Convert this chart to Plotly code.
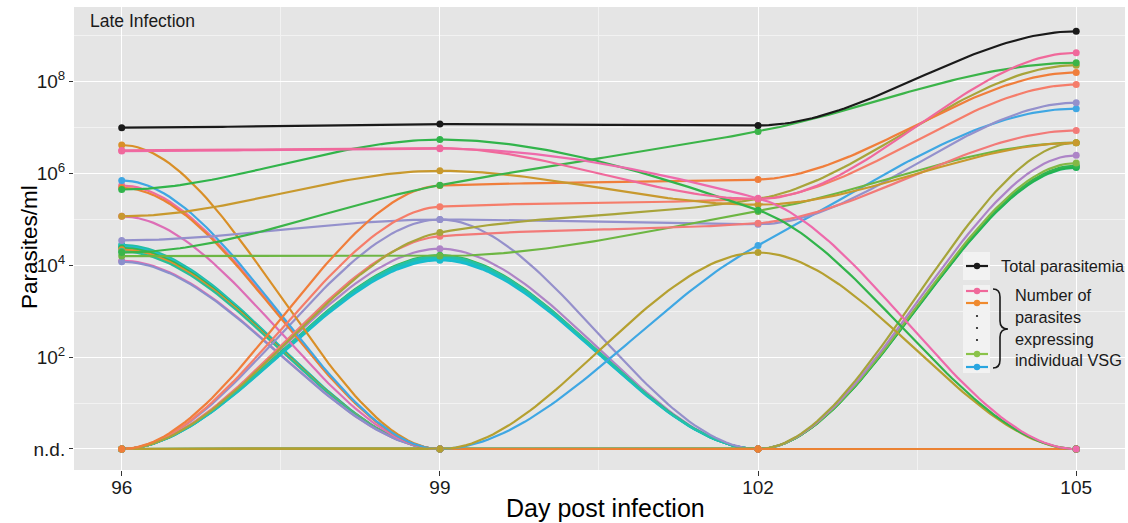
import numpy as np
import plotly.graph_objects as go

# ---------------- data (parasites/ml; 0 = not detected, "n.d.") ----------------
days = [96, 99, 102, 105]
total_parasitemia = [1.0e7, 1.2e7, 1.12e7, 1.26e9]

vsg_goldorange = [4.2e6, 0, 0, 0]
vsg_pink_a = [3.2e6, 3.6e6, 2.8e5, 4.3e8]
vsg_pink_b = [3.1e6, 3.5e6, 2.9e5, 0]
vsg_blue = [7.1e5, 0, 2.7e4, 2.6e7]
vsg_pink_c = [5.5e5, 0, 0, 0]
vsg_orange_a = [4.9e5, 0, 0, 0]
vsg_green_a = [4.5e5, 5.5e6, 1.6e5, 0]
vsg_gold = [1.17e5, 1.15e6, 2.1e5, 4.7e6]
vsg_magenta_a = [1.17e5, 0, 0, 0]
vsg_purple_a = [3.5e4, 1.0e5, 7.9e4, 3.5e7]
vsg_green_b = [1.9e4, 5.6e5, 8.3e6, 2.6e8]
vsg_lightgreen_a = [1.6e4, 1.6e4, 1.5e5, 4.7e6]
vsg_teal_a = [2.8e4, 0, 0, 0]
vsg_cyan_a = [2.6e4, 0, 0, 0]
vsg_green_c = [2.4e4, 0, 0, 0]
vsg_orange_b = [2.2e4, 0, 0, 0]
vsg_teal_b = [2.0e4, 0, 0, 0]
vsg_pink_d = [1.26e4, 0, 0, 0]
vsg_purple_b = [1.2e4, 0, 0, 0]
vsg_violet_a = [0, 2.3e4, 0, 0]
vsg_cyan_b = [0, 1.4e4, 0, 0]
vsg_teal_c = [0, 1.5e4, 0, 0]
vsg_green_d = [0, 1.66e4, 0, 0]
vsg_cyan_c = [0, 1.3e4, 0, 0]
vsg_teal_d = [0, 1.6e4, 0, 0]
vsg_purple_c = [0, 1.0e5, 0, 0]
vsg_orange_c = [0, 5.5e5, 7.4e5, 1.6e8]
vsg_salmon_a = [0, 1.9e5, 2.8e5, 8.7e7]
vsg_olive_a = [0, 5.2e4, 2.8e5, 2.3e8]
vsg_salmon_b = [0, 4.3e4, 8.3e4, 8.7e6]
vsg_olivegold = [0, 0, 1.9e4, 0]
vsg_olive_b = [0, 0, 0, 4.7e6]
vsg_violet_b = [0, 0, 0, 2.5e6]
vsg_lightgreen_b = [0, 0, 0, 1.7e6]
vsg_green_e = [0, 0, 0, 1.5e6]
vsg_green_f = [0, 0, 0, 1.4e6]
vsg_teal_e = [0, 0, 0, 1.35e6]

vsg_series = [
    vsg_teal_a, vsg_cyan_a, vsg_green_c, vsg_orange_b, vsg_teal_b, vsg_pink_d, vsg_purple_b,
    vsg_violet_a, vsg_cyan_b, vsg_teal_c, vsg_green_d, vsg_cyan_c, vsg_teal_d, vsg_purple_c,
    vsg_teal_e, vsg_green_f, vsg_green_e, vsg_lightgreen_b, vsg_violet_b, vsg_olive_b,
    vsg_magenta_a, vsg_pink_c, vsg_goldorange, vsg_orange_a, vsg_blue, vsg_olivegold,
    vsg_purple_a, vsg_lightgreen_a, vsg_salmon_b, vsg_salmon_a, vsg_olive_a, vsg_orange_c,
    vsg_gold, vsg_green_a, vsg_green_b, vsg_pink_b, vsg_pink_a,
]
vsg_colors = [
    "#23BEA5", "#20BDC9", "#34B653", "#E38C2F", "#2ABF96", "#E56CB0", "#8A8FCC",
    "#AE84C6", "#1BBFD3", "#1FC0B8", "#3AB64A", "#17BCCD", "#25C1A6", "#9590CB",
    "#1EB665", "#25B24C", "#2FB552", "#84B845", "#AD84C7", "#A6A43A",
    "#DD6EB6", "#EE6D9E", "#D98F27", "#EB8233", "#3FA7E3", "#B5A030",
    "#9491CC", "#6DB643", "#F27A78", "#F57D6A", "#A8A43A", "#F07E3B",
    "#C8992E", "#31B44B", "#3BB449", "#EE6AAB", "#F0699B",
]

# ---------------- helpers ----------------
def to_log(vals):
    return np.array([np.log10(v) if v > 0 else 0.0 for v in vals])


def smooth_curve(xs, vals, n=60):
    """Monotone cubic Hermite interpolation in log space (flat at ends / extrema)."""
    xs = np.asarray(xs, float)
    ys = to_log(vals)
    h = np.diff(xs)
    d = np.diff(ys) / h
    m = np.zeros_like(ys)
    for i in range(1, len(ys) - 1):
        if d[i - 1] * d[i] > 0:
            m[i] = 2.0 / (1.0 / d[i - 1] + 1.0 / d[i])
    X, Y = [], []
    for i in range(len(xs) - 1):
        t = np.linspace(0, 1, n, endpoint=(i == len(xs) - 2))
        h00 = 2 * t**3 - 3 * t**2 + 1
        h10 = t**3 - 2 * t**2 + t
        h01 = -2 * t**3 + 3 * t**2
        h11 = t**3 - t**2
        y = h00 * ys[i] + h10 * h[i] * m[i] + h01 * ys[i + 1] + h11 * h[i] * m[i + 1]
        X.append(xs[i] + t * h[i])
        Y.append(y)
    return np.concatenate(X), 10 ** np.concatenate(Y)


def shown(vals):
    return [v if v > 0 else 1.0 for v in vals]


fig = go.Figure()

LW = 2.2
MS = 7
for vals, col in zip(vsg_series, vsg_colors):
    cx, cy = smooth_curve(days, vals)
    fig.add_trace(go.Scatter(x=cx, y=cy, mode="lines", line=dict(color=col, width=LW),
                             hoverinfo="skip", showlegend=False))
for vals, col in zip(vsg_series, vsg_colors):
    fig.add_trace(go.Scatter(x=days, y=shown(vals), mode="markers",
                             marker=dict(color=col, size=MS), showlegend=False))

cx, cy = smooth_curve(days, total_parasitemia)
fig.add_trace(go.Scatter(x=cx, y=cy, mode="lines", line=dict(color="#1A1A1A", width=LW),
                         hoverinfo="skip", showlegend=False))
fig.add_trace(go.Scatter(x=days, y=total_parasitemia, mode="markers",
                         marker=dict(color="#1A1A1A", size=MS), showlegend=False))

# ---------------- layout ----------------
W, H = 1128, 523
ML, MR, MT, MB = 74, 3, 7, 53
PW, PH = W - ML - MR, H - MT - MB


def P(px, py):
    return (px - ML) / PW, (H - MB - py) / PH


FONT = "Liberation Sans, Arial, Helvetica, sans-serif"

fig.update_layout(
    width=W, height=H,
    margin=dict(l=ML, r=MR, t=MT, b=MB, pad=0),
    paper_bgcolor="white",
    plot_bgcolor="#E5E5E5",
    font=dict(family=FONT, color="#1A1A1A"),
    showlegend=False,
)

fig.update_xaxes(
    range=[95.55, 105.46],
    tickvals=[96, 99, 102, 105],
    ticktext=["96", "99", "102", "105"],
    tickfont=dict(size=19, color="#1A1A1A"),
    ticks="outside", ticklen=5, tickcolor="#333333", tickwidth=1.2,
    ticklabelstandoff=-5,
    showgrid=True, gridcolor="white", gridwidth=1.3,
    minor=dict(tickvals=[97.5, 100.5, 103.5], showgrid=True, gridcolor="#F2F2F2",
               gridwidth=0.7, ticks=""),
    zeroline=False, showline=False,
)
fig.update_yaxes(
    type="log",
    range=[-0.458, 9.63],
    tickvals=[1, 1e2, 1e4, 1e6, 1e8],
    ticktext=["n.d.", "10<sup>2</sup>", "10<sup>4</sup>", "10<sup>6</sup>", "10<sup>8</sup>"],
    tickfont=dict(size=19, color="#1A1A1A"),
    ticks="outside", ticklen=4, tickcolor="#333333", tickwidth=1.2,
    showgrid=True, gridcolor="white", gridwidth=1.3,
    minor=dict(tickvals=[10, 1e3, 1e5, 1e7, 1e9], showgrid=True, gridcolor="#F2F2F2",
               gridwidth=0.7, ticks=""),
    zeroline=False, showline=False,
)

annotations = []
# panel label
x0, y0 = P(88, 21)
annotations.append(dict(x=x0, y=y0, xref="paper", yref="paper", text="Late Infection",
                        showarrow=False, xanchor="left", yanchor="middle",
                        font=dict(size=17.5, color="#1A1A1A")))
# axis titles
x0, y0 = P(605, 508)
annotations.append(dict(x=x0, y=y0, xref="paper", yref="paper", text="Day post infection",
                        showarrow=False, xanchor="center", yanchor="middle",
                        font=dict(size=25, color="#000000")))
x0, y0 = P(30, 247)
annotations.append(dict(x=x0, y=y0, xref="paper", yref="paper", text="Parasites/ml",
                        showarrow=False, xanchor="center", yanchor="middle", textangle=-90,
                        font=dict(size=22.5, color="#000000")))

shapes = []


def rect(px0, py0, px1, py1, fill):
    a, b = P(px0, py1)
    c, d = P(px1, py0)
    shapes.append(dict(type="rect", xref="paper", yref="paper", x0=a, y0=b, x1=c, y1=d,
                       fillcolor=fill, line=dict(width=0), layer="above"))


def hline(px0, px1, py, col, w=2.2):
    a, b = P(px0, py)
    c, _ = P(px1, py)
    shapes.append(dict(type="line", xref="paper", yref="paper", x0=a, y0=b, x1=c, y1=b,
                       line=dict(color=col, width=w), layer="above"))


def dot(px, py, r, col):
    a, b = P(px - r, py + r)
    c, d = P(px + r, py - r)
    shapes.append(dict(type="circle", xref="paper", yref="paper", x0=a, y0=b, x1=c, y1=d,
                       fillcolor=col, line=dict(width=0), layer="above"))


# legend key boxes
rect(963, 252, 990, 280, "#F2F2F2")
rect(963, 285, 990, 373, "#F2F2F2")
hline(966, 988, 266, "#1A1A1A")
dot(977, 266, 3.2, "#1A1A1A")
legend_keys = [(291, "#F0699B"), (303, "#F08A2E"), (354, "#8BC34A"), (367, "#2AA6E0")]
for py, col in legend_keys:
    hline(966, 988, py, col)
    dot(977, py, 3.2, col)
for py in (316, 328, 340):
    dot(977, py, 1.1, "#1A1A1A")

# curly brace
pts = [(993, 289), (1000, 289), (1000, 297), (1000, 321), (1000, 329), (1008, 329),
       (1000, 329), (1000, 337), (1000, 360), (1000, 368), (993, 368)]
pp = [P(*p) for p in pts]
path = (f"M {pp[0][0]},{pp[0][1]} Q {pp[1][0]},{pp[1][1]} {pp[2][0]},{pp[2][1]} "
        f"L {pp[3][0]},{pp[3][1]} Q {pp[4][0]},{pp[4][1]} {pp[5][0]},{pp[5][1]} "
        f"Q {pp[6][0]},{pp[6][1]} {pp[7][0]},{pp[7][1]} "
        f"L {pp[8][0]},{pp[8][1]} Q {pp[9][0]},{pp[9][1]} {pp[10][0]},{pp[10][1]}")
shapes.append(dict(type="path", xref="paper", yref="paper", path=path,
                   line=dict(color="#1A1A1A", width=1.6), layer="above"))

# legend texts
x0, y0 = P(999, 266)
annotations.append(dict(x=x0, y=y0, xref="paper", yref="paper", text="Total parasitemia",
                        showarrow=False, xanchor="left", yanchor="middle",
                        font=dict(size=16.3, color="#1A1A1A")))
for py, txt in [(295, "Number of"), (317, "parasites"), (339, "expressing"), (360, "individual VSG")]:
    x0, y0 = P(1013, py)
    annotations.append(dict(x=x0, y=y0, xref="paper", yref="paper", text=txt,
                            showarrow=False, xanchor="left", yanchor="middle",
                            font=dict(size=16.3, color="#1A1A1A")))

fig.update_layout(shapes=shapes, annotations=annotations)

fig.write_html("out.html")
